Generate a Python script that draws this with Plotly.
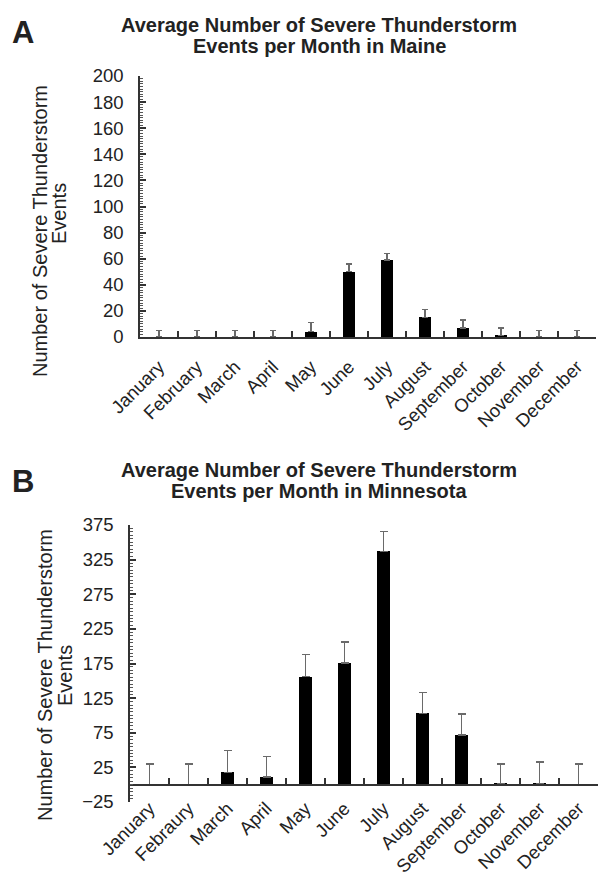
import plotly.graph_objects as go

# Monthly averages and error (upper) for each state
months_maine = ["January", "February", "March", "April", "May", "June",
                "July", "August", "September", "October", "November", "December"]
maine_avg = [0, 0, 0, 0, 4, 50, 59, 15, 7, 1, 0, 0]
maine_err = [5, 5, 5, 5, 7, 6, 5, 6, 6, 6, 5, 5]

months_mn = ["January", "Febraury", "March", "April", "May", "June",
             "July", "August", "September", "October", "November", "December"]
mn_avg = [0, 0, 18, 11, 156, 176, 337, 103, 72, 1, 1, 0]
mn_err = [30, 30, 31, 30, 32, 30, 29, 30, 30, 29, 32, 30]

W, H = 610, 872
FONT = "Liberation Sans, Arial, sans-serif"
INK = "#222222"
AXIS = "#333333"


def px_x(p):
    return p / W


def px_y(p):
    return 1 - p / H


# plot areas in pixels (left, right, top, bottom)
A_BOX = (140, 596, 76, 337)
B_BOX = (130, 598, 525, 802)
A_RANGE = [0, 200]
B_RANGE = [-25, 375]

fig = go.Figure()

fig.add_trace(go.Bar(
    x=months_maine, y=maine_avg, width=0.3,
    marker=dict(color="black", line=dict(width=0)),
    error_y=dict(type="data", symmetric=False, array=maine_err,
                 arrayminus=[0] * len(maine_err), color="#6a6a6a",
                 thickness=1.4, width=3),
    xaxis="x", yaxis="y", showlegend=False,
))

fig.add_trace(go.Bar(
    x=months_mn, y=mn_avg, width=0.34,
    marker=dict(color="black", line=dict(width=0)),
    error_y=dict(type="data", symmetric=False, array=mn_err,
                 arrayminus=[0] * len(mn_err), color="#6a6a6a",
                 thickness=1.4, width=4),
    xaxis="x2", yaxis="y2", showlegend=False,
))

tickfont = dict(family=FONT, size=18.5, color=INK)

xa_common = dict(
    type="category", range=[-0.5, 11.5], tickson="boundaries",
    tickangle=-45, tickfont=tickfont, showgrid=False, zeroline=False,
    showline=True, linecolor=AXIS, linewidth=1.5,
    ticks="inside", ticklen=6, tickcolor=AXIS, tickwidth=1.5,
    automargin=False,
)

ya_common = dict(
    showgrid=False, zeroline=False, showline=True, linecolor=AXIS,
    linewidth=1.5, ticks="inside", ticklen=6, tickcolor=AXIS,
    tickwidth=1.5, tickfont=tickfont, ticklabelstandoff=11,
    automargin=False,
)

b_y0 = px_y(B_BOX[3])
b_y1 = px_y(B_BOX[2])
zero_frac = (0 - B_RANGE[0]) / (B_RANGE[1] - B_RANGE[0])
zero_pos = b_y0 + zero_frac * (b_y1 - b_y0)

fig.update_layout(
    width=W, height=H,
    margin=dict(l=0, r=0, t=0, b=0, autoexpand=False),
    paper_bgcolor="white", plot_bgcolor="white",
    bargap=0,
    xaxis=dict(
        **xa_common,
        domain=[px_x(A_BOX[0]), px_x(A_BOX[1])], anchor="y",
        ticklabelstandoff=10,
    ),
    yaxis=dict(
        **ya_common,
        domain=[px_y(A_BOX[3]), px_y(A_BOX[2])], anchor="x",
        range=A_RANGE, tick0=0, dtick=20,
        minor=dict(dtick=2, ticks="inside", ticklen=3, tickwidth=1,
                   tickcolor="#555"),
    ),
    # panel B baseline sits at zero
    xaxis2=dict(
        **xa_common,
        domain=[px_x(B_BOX[0]), px_x(B_BOX[1])], anchor="free",
        position=zero_pos, ticklabelstandoff=5,
    ),
    yaxis2=dict(
        **ya_common,
        domain=[b_y0, b_y1], anchor="x2",
        range=B_RANGE, tick0=-25, dtick=50,
        minor=dict(dtick=5, ticks="inside", ticklen=3, tickwidth=1,
                   tickcolor="#555"),
    ),
)

annotations = []


def text(x, y, s, size, bold=False, angle=0, xanchor="center"):
    annotations.append(dict(
        x=px_x(x), y=px_y(y), xref="paper", yref="paper",
        text=f"<b>{s}</b>" if bold else s, showarrow=False,
        textangle=angle, xanchor=xanchor, yanchor="middle",
        font=dict(family=FONT, size=size, color=INK),
    ))


# panel letters
text(10, 33, "A", 31, bold=True, xanchor="left")
text(10, 481, "B", 31, bold=True, xanchor="left")

# titles
text(319, 25, "Average Number of Severe Thunderstorm", 20, bold=True)
text(319, 46, "Events per Month in Maine", 20, bold=True)
text(319, 470, "Average Number of Severe Thunderstorm", 20, bold=True)
text(319, 491, "Events per Month in Minnesota", 20, bold=True)

# y-axis titles
text(40, 231, "Number of Severe Thunderstorm", 20, angle=-90)
text(59, 214, "Events", 20, angle=-90)
text(45, 675, "Number of Severe Thunderstorm", 20, angle=-90)
text(65, 676, "Events", 20, angle=-90)

fig.update_layout(annotations=annotations)

fig.write_html("out.html")
